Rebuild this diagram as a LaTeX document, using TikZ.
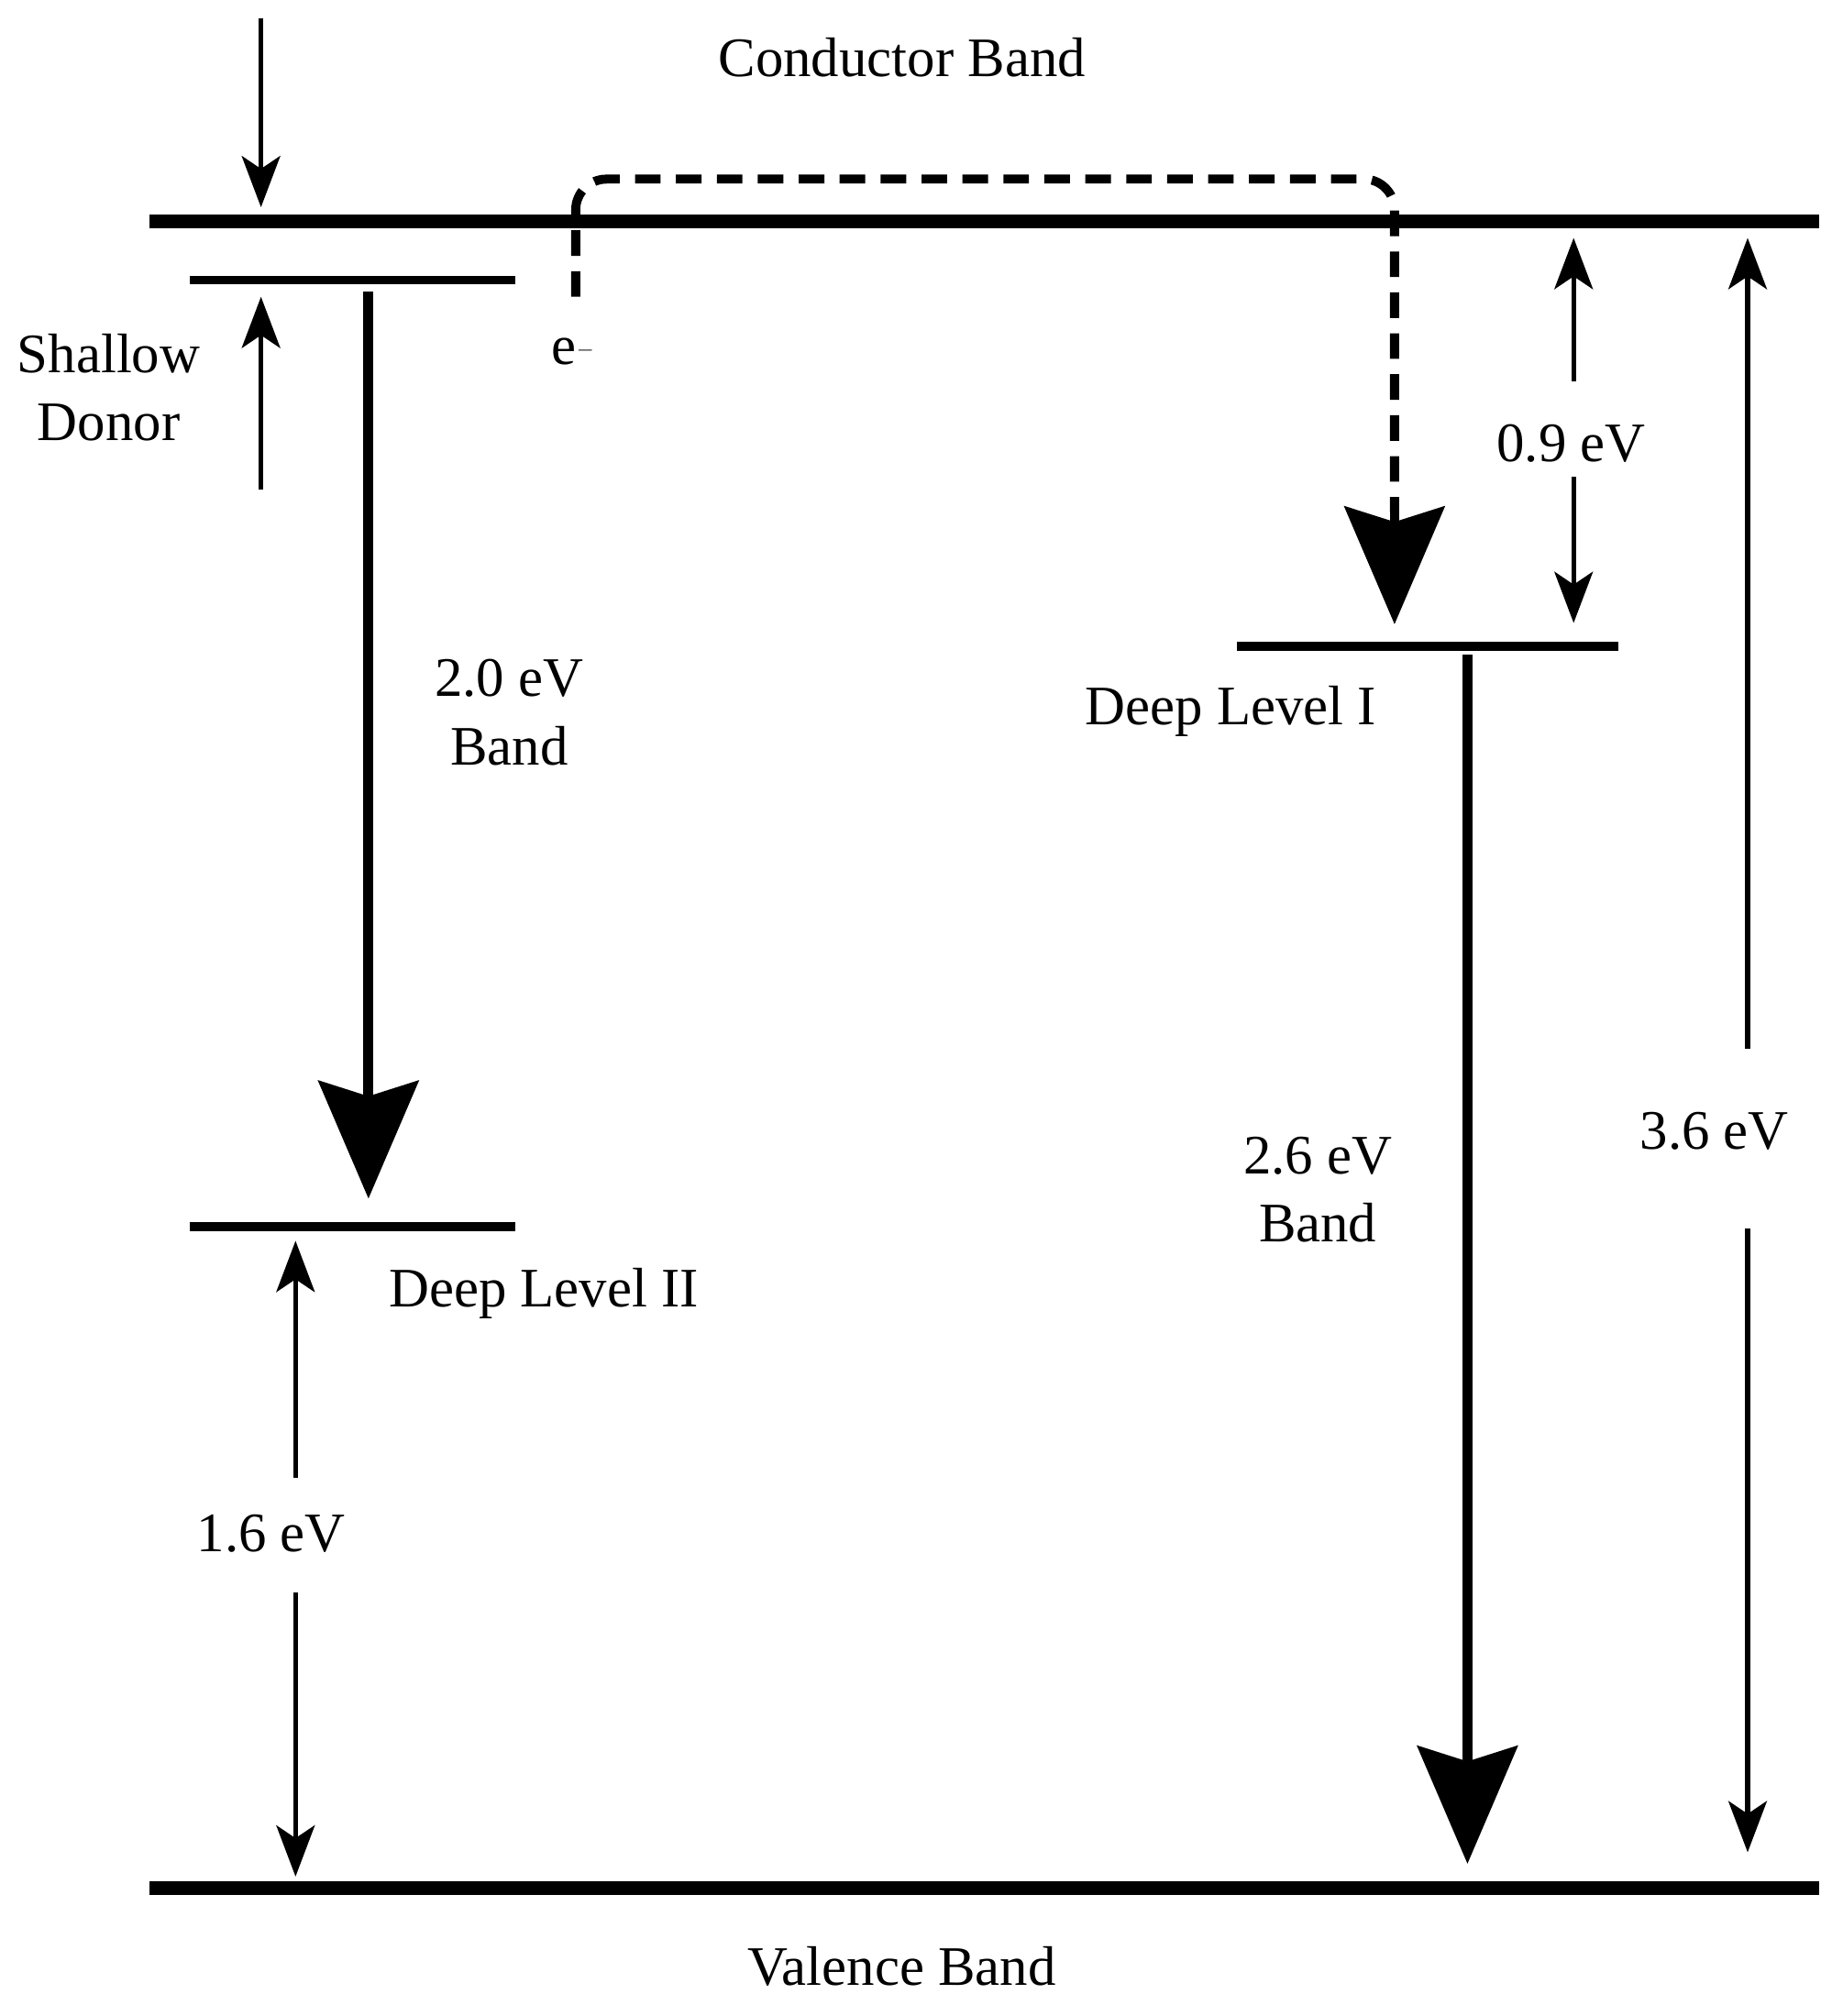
\documentclass[tikz,border=0pt]{standalone}
\usepackage{fontspec}
\setmainfont{Liberation Serif}
\usetikzlibrary{arrows.meta}
\begin{document}
\begin{tikzpicture}[x=0.05cm,y=-0.05cm,
  lbl/.style={font=\fontsize{62}{76}\selectfont,align=center,inner sep=0},
  band/.style={line width=15pt},
  level/.style={line width=10pt},
  thin/.style={line width=5.5pt,-{Stealth[length=2cm,width=1.5cm,inset=0.5cm]}},
  thick/.style={line width=11pt,-{Stealth[length=4.6cm,width=3.9cm,inset=0.6cm]}},
  epath/.style={line width=10pt,dash pattern=on 1cm off 0.6cm,rounded corners=1.2cm}]
\useasboundingbox[fill=white] (0,0) rectangle (1440,1576);
% bands
\coordinate (cbL) at (117,173); \coordinate (cbR) at (1422,173);
\coordinate (vbL) at (117,1476); \coordinate (vbR) at (1422,1476);
\draw[band] (cbL) -- (cbR);
\draw[band] (vbL) -- (vbR);
\node[lbl] (cb) at (705,45) {Conductor Band};
\node[lbl] (vb) at (705,1537) {Valence Band};
% shallow donor
\coordinate (sdL) at (148,219); \coordinate (sdR) at (403,219);
\draw[level] (sdL) -- (sdR);
\node[lbl] (sd) at (85,303) {Shallow\\Donor};
\coordinate (a1s) at (204,14); \coordinate (a1e) at (204,162);
\draw[thin] (a1s) -- (a1e);
\coordinate (a2s) at (204,383); \coordinate (a2e) at (204,232);
\draw[thin] (a2s) -- (a2e);
% 2.0 eV
\coordinate (t1s) at (288,228); \coordinate (t1e) at (288,937);
\draw[thick] (t1s) -- (t1e);
\node[lbl] (l20) at (398,557) {2.0 eV\\Band};
% deep level II
\coordinate (d2L) at (148,959); \coordinate (d2R) at (403,959);
\draw[level] (d2L) -- (d2R);
\node[lbl] (d2) at (425,1011) {Deep Level II};
\node[lbl] (l16) at (212,1199) {1.6 eV};
\coordinate (b1s) at (231,1155); \coordinate (b1e) at (231,970);
\coordinate (b2s) at (231,1245); \coordinate (b2e) at (231,1467);
\draw[thin] (b1s) -- (b1e);
\draw[thin] (b2s) -- (b2e);
% electron path
\coordinate (es) at (450,232); \coordinate (ee) at (1090,488);
\draw[epath] (es) -- (450,140) -- (1090,140) -- (1090,400);
\draw[line width=10pt,-{Stealth[length=4.6cm,width=3.9cm,inset=0.6cm]}] (1090,395) -- (ee);
\node[lbl] (el) at (448,275) {e$^{-}$};
% deep level I
\coordinate (d1L) at (967,505); \coordinate (d1R) at (1265,505);
\draw[level] (d1L) -- (d1R);
\node[lbl] (d1) at (962,556) {Deep Level I};
\node[lbl] (l09) at (1228,347) {0.9 eV};
\coordinate (c1s) at (1230,298); \coordinate (c1e) at (1230,186);
\coordinate (c2s) at (1230,373); \coordinate (c2e) at (1230,487);
\draw[thin] (c1s) -- (c1e);
\draw[thin] (c2s) -- (c2e);
% 2.6 eV
\coordinate (t2s) at (1147,512); \coordinate (t2e) at (1147,1457);
\draw[thick] (t2s) -- (t2e);
\node[lbl] (l26) at (1030,930) {2.6 eV\\Band};
% 3.6 eV
\node[lbl] (l36) at (1340,884) {3.6 eV};
\coordinate (e1s) at (1366,820); \coordinate (e1e) at (1366,186);
\coordinate (e2s) at (1366,960); \coordinate (e2e) at (1366,1448);
\draw[thin] (e1s) -- (e1e);
\draw[thin] (e2s) -- (e2e);
\end{tikzpicture}
\end{document}
